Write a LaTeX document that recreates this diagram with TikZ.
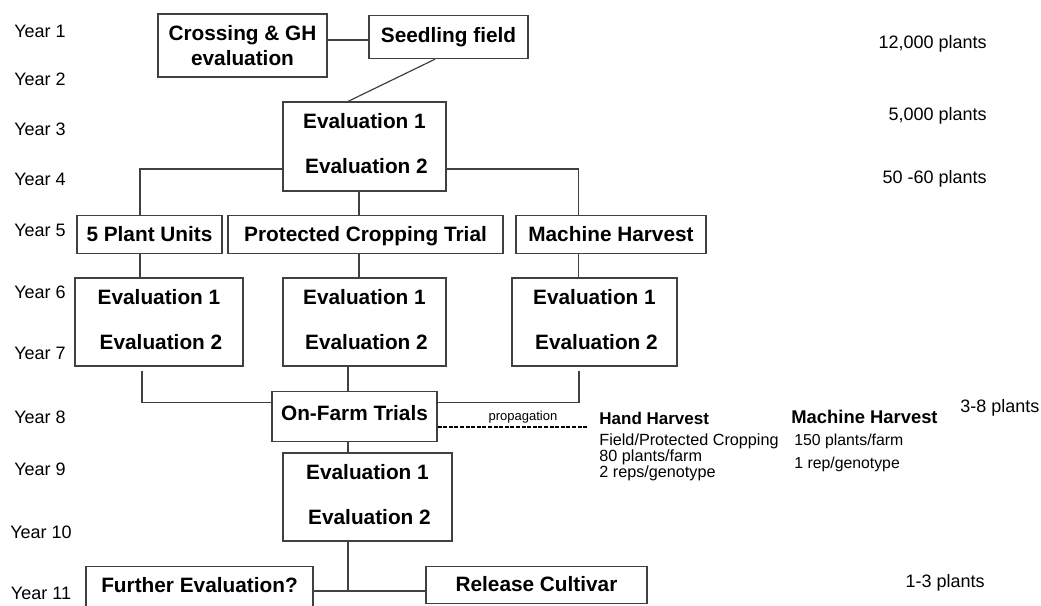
\documentclass[tikz,border=0pt]{standalone}
\usepackage{fontspec}
\setmainfont{Liberation Sans}
\usepackage{tikz}
\usetikzlibrary{calc}

\newcommand{\evaltext}{Evaluation 1\\[10pt]\hspace{2pt}Evaluation 2\rule[-3pt]{0pt}{3pt}}

\begin{document}
\begin{tikzpicture}[
    x=0.5pt, y=-0.5pt,
    box/.style={draw=black!75, line width=0.6pt, inner sep=0pt, align=center,
        font=\fontsize{10.4}{12.5}\selectfont\bfseries},
    year/.style={font=\fontsize{9}{10}\selectfont, inner sep=0pt},
    count/.style={font=\fontsize{9}{10}\selectfont, inner sep=0pt, anchor=east},
    link/.style={draw=black!75, line width=0.6pt}
]
    \useasboundingbox (0,0) rectangle (1041,606);

    % Year labels
    \node[year] (y1) at (40,31) {Year 1};
    \node[year] (y2) at (40,79) {Year 2};
    \node[year] (y3) at (40,129) {Year 3};
    \node[year] (y4) at (40,179) {Year 4};
    \node[year] (y5) at (40,230) {Year 5};
    \node[year] (y6) at (40,292) {Year 6};
    \node[year] (y7) at (40,353) {Year 7};
    \node[year] (y8) at (40,417) {Year 8};
    \node[year] (y9) at (40,469) {Year 9};
    \node[year] (y10) at (41,532) {Year 10};
    \node[year] (y11) at (41,593) {Year 11};

    % Plant numbers
    \node[count] (n1) at (987,44) {12,000 plants};
    \node[count] (n3) at (987,116) {5,000 plants};
    \node[count] (n4) at (987,179) {50 -60 plants};
    \node[count, anchor=west] (n8) at (960,408) {3-8 plants};
    \node[count] (n11) at (985,583) {1-3 plants};

    % Year 1-4
    \node[box, minimum width=84.5pt, minimum height=31.5pt] (cross) at (242.5,45.5) {Crossing \& GH\\evaluation};
    \node[box, minimum width=79.5pt, text height=13.25pt, text depth=8.25pt, anchor=north] (seed) at (448.5,15) {Seedling field};
    \node[box, minimum width=81.5pt, minimum height=44.5pt] (evalA) at (364.5,146.5) {\evaltext};

    % Year 5
    \node[box, minimum width=72.5pt, text height=12.75pt, text depth=6.25pt, anchor=north] (plant5) at (149.5,215) {5 Plant Units};
    \node[box, minimum width=137.5pt, text height=12.75pt, text depth=6.25pt, anchor=north] (prot) at (365.5,215) {Protected Cropping Trial};
    \node[box, minimum width=95pt, text height=12.75pt, text depth=6.25pt, anchor=north] (machA) at (611,215) {Machine Harvest};

    % Year 6-7
    \node[box, minimum width=84pt, minimum height=44pt] (evalB) at (159,322) {\evaltext};
    \node[box, minimum width=81.5pt, minimum height=44pt] (evalM) at (364.5,322) {\evaltext};
    \node[box, minimum width=82.5pt, minimum height=44pt] (evalC) at (594.5,322) {\evaltext};

    % Year 8-10
    \node[box, minimum width=82.5pt, text height=14.25pt, text depth=10.75pt, anchor=north] (farm) at (354.5,391) {On-Farm Trials};
    \node[box, minimum width=84.5pt, minimum height=44pt] (evalD) at (367.5,497) {\evaltext};

    % Year 11
    \node[box, minimum width=113.5pt, text height=12.75pt, text depth=10.25pt, anchor=north] (further) at (199.5,566) {Further Evaluation?};
    \node[box, minimum width=110.5pt, text height=12.25pt, text depth=6.25pt, anchor=north] (release) at (536.5,566) {Release Cultivar};

    % Harvest notes
    \node[anchor=north west, align=left, inner sep=0pt, font=\fontsize{8.1}{8}\selectfont] (hand) at (599,412)
        {{\fontsize{8.5}{8}\selectfont\bfseries Hand Harvest}\\[2.6pt]Field/Protected Cropping\\80 plants/farm\\2 reps/genotype};
    \node[anchor=north west, align=left, inner sep=0pt, font=\fontsize{7.9}{11.5}\selectfont] (mach) at (791,410)
        {{\fontsize{9.2}{11.5}\selectfont\bfseries Machine Harvest}\\[-0.5pt]\hspace{1.5pt}150 plants/farm\\\hspace{1.5pt}1 rep/genotype};

    % Connector levels
    \coordinate (jC) at (0,40);
    \coordinate (jA) at (0,169);
    \coordinate (jF) at (0,402.5);
    \coordinate (jP) at (0,427);
    \coordinate (jR) at (0,591);
    \coordinate (cL) at (140,0);
    \coordinate (cM) at (359,0);
    \coordinate (cF) at (348,0);
    \coordinate (cR) at (578.5,0);
    \coordinate (prop) at (588,427);

    % Connectors
    \draw[link] (cross.east |- jC) -- (seed.west |- jC);
    \draw[link] ($(seed.south)+(-13.5,0)$) -- ($(evalA.north)+(-16.5,0)$);
    \draw[link] (evalA.west |- jA) -| (cL |- plant5.north);
    \draw[link] (evalA.east |- jA) -| (cR |- machA.north);
    \draw[link] (cM |- evalA.south) -- (cM |- prot.north);
    \draw[link] (cL |- plant5.south) -- (cL |- evalB.north);
    \draw[link] (cM |- prot.south) -- (cM |- evalM.north);
    \draw[link] (cR |- machA.south) -- (cR |- evalC.north);
    \draw[link] ($(cL |- evalB.south)+(2,4)$) |- (farm.west |- jF);
    \draw[link] ($(cR |- evalC.south)+(0.5,4)$) |- (farm.east |- jF);
    \draw[link] (cF |- evalM.south) -- (cF |- farm.north);
    \draw[link] (cF |- farm.south) -- (cF |- evalD.north);
    \draw[link] (cF |- evalD.south) -- (cF |- jR);
    \draw[link] (further.east |- jR) -- (release.west |- jR);

    % Propagation
    \draw[line width=0.8pt, dash pattern=on 2pt off 0.8pt] (farm.east |- jP) -- (prop);
    \node[font=\fontsize{6.5}{7}\selectfont] (proplbl) at (523,417) {propagation};
\end{tikzpicture}
\end{document}
